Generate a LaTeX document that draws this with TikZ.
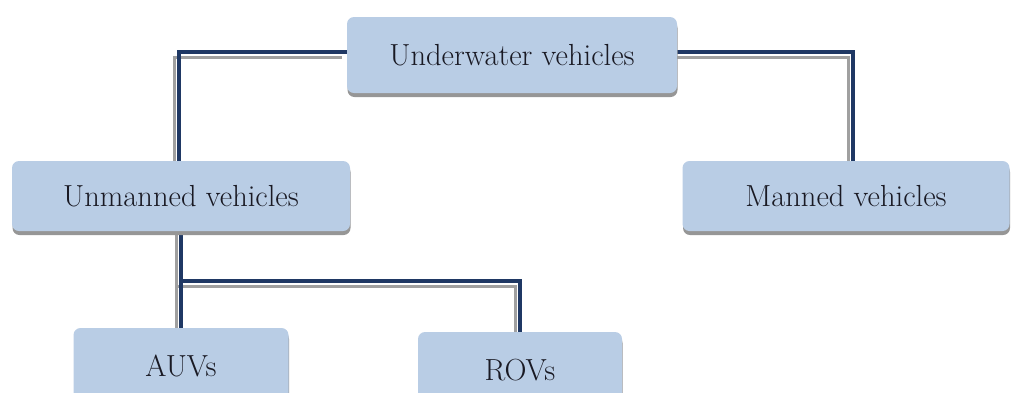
\documentclass[tikz,border=0pt]{standalone}
\usetikzlibrary{shadows,backgrounds}
\definecolor{boxblue}{RGB}{185,205,229}
\definecolor{shgray}{RGB}{150,150,150}
\definecolor{navy}{RGB}{31,56,100}
\definecolor{lgray}{RGB}{160,160,160}
\definecolor{txt}{RGB}{25,25,35}
\begin{document}
\begin{tikzpicture}[x=1pt,y=-1pt,
  box/.style={rectangle, rounded corners=7pt, fill=boxblue, draw=none, inner sep=0pt,
    font=\fontsize{30.5}{33}\selectfont, text=txt,
    drop shadow={shadow xshift=0.5pt, shadow yshift=-4pt, fill=shgray, opacity=1}},
  conn/.style={draw=navy, line width=3.2pt},
  connsh/.style={draw=lgray, line width=3pt}]
\useasboundingbox (0,0) rectangle (1012,392);
\node[box, minimum width=330pt, minimum height=76pt] (top) at (512,55) {Underwater vehicles};
\node[box, minimum width=338pt, minimum height=70pt] (unm) at (181,196) {Unmanned vehicles};
\node[box, minimum width=327pt, minimum height=70pt] (man) at (846,196) {Manned vehicles};
\node[box, minimum width=215pt, minimum height=76pt] (auv) at (181,366) {AUVs};
\node[box, minimum width=204pt, minimum height=76pt] (rov) at (520,370) {ROVs};
\coordinate (j) at (181,281);
\begin{scope}[on background layer]
  \draw[connsh] ([xshift=-5pt,yshift=-2pt]top.west) -| ([xshift=-7pt]unm.north);
  \draw[connsh] ([xshift=-5pt,yshift=-2pt]top.east) -| ([xshift=2pt]man.north);
  \draw[connsh] ([xshift=-5pt]unm.south) -- ([xshift=-5pt]auv.north);
  \draw[connsh] ([xshift=-5pt,yshift=-5pt]j) -| ([xshift=-5pt]rov.north);
  \draw[conn] ([yshift=3pt]top.west) -| ([xshift=-2pt]unm.north);
  \draw[conn] ([yshift=3pt]top.east) -| ([xshift=7pt]man.north);
  \draw[conn] (unm.south) -- (auv.north);
  \draw[conn] (j) -| (rov.north);
\end{scope}
\end{tikzpicture}
\end{document}
